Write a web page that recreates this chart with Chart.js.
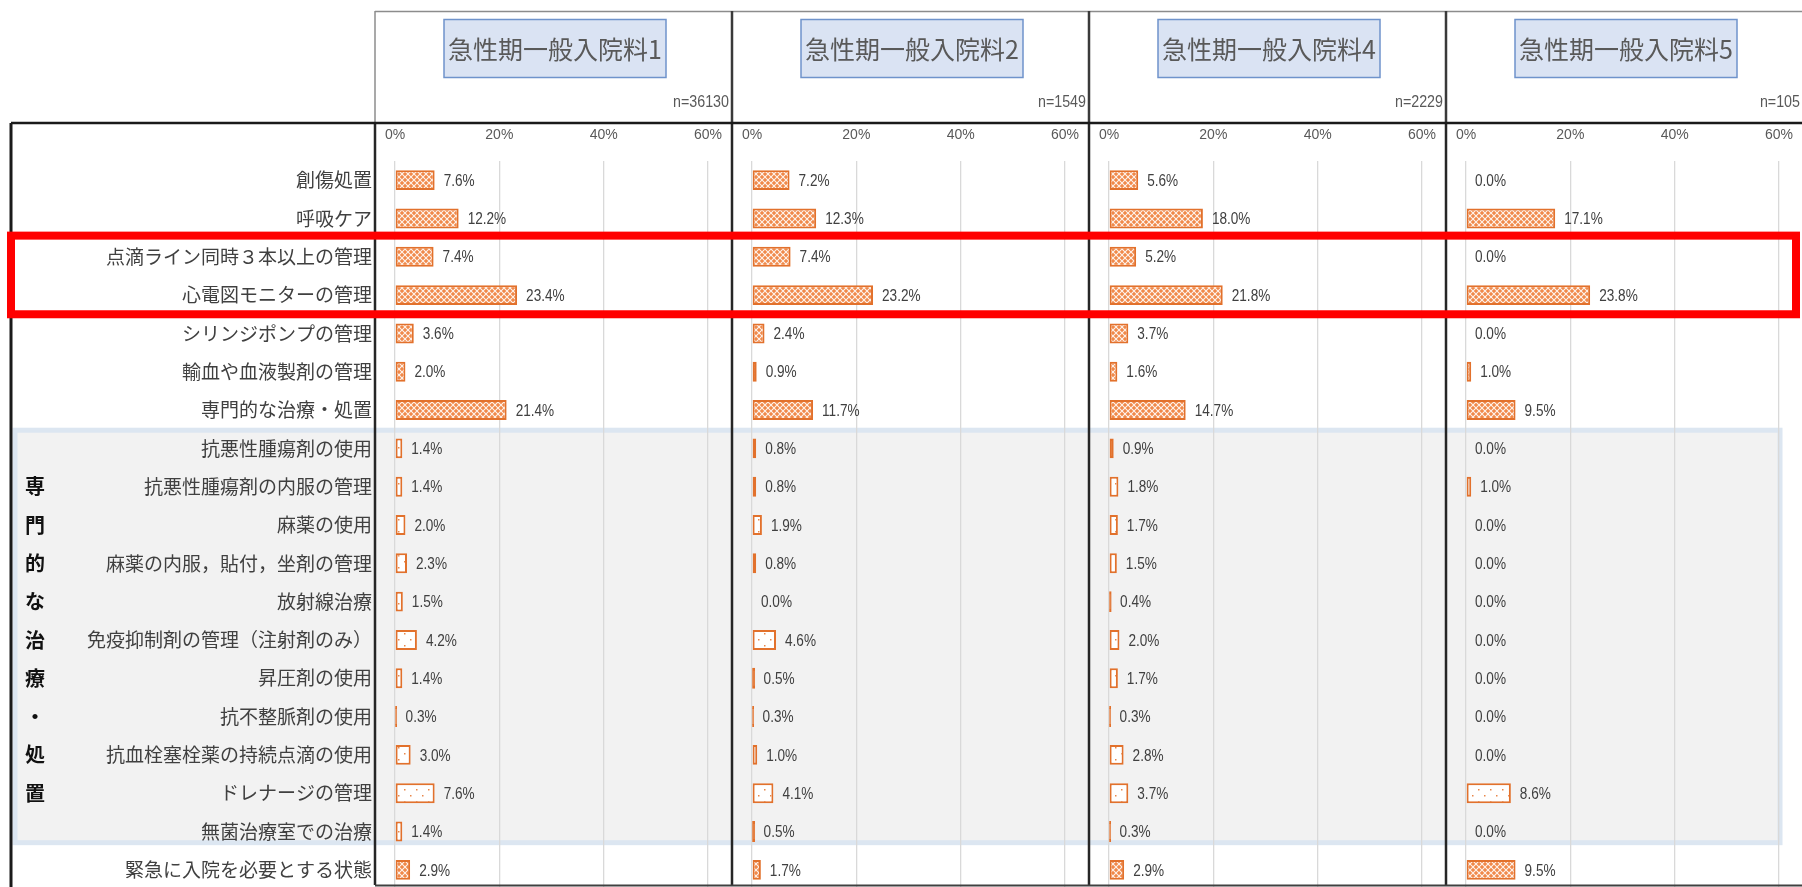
<!DOCTYPE html>
<html>
<head>
<meta charset="utf-8">
<script src="https://cdn.jsdelivr.net/npm/chart.js@4.4.1/dist/chart.umd.min.js"></script>
<style>
  html, body { margin: 0; padding: 0; background: #fff; overflow: hidden; }
  #wrap { position: relative; width: 1802px; height: 887px; overflow: hidden; }
  #wrap canvas { position: absolute; top: 0; }
</style>
</head>
<body>
<div id="wrap"></div>
<script>
// data (percent)
const categories = [
  '創傷処置', '呼吸ケア', '点滴ライン同時３本以上の管理', '心電図モニターの管理',
  'シリンジポンプの管理', '輸血や血液製剤の管理', '専門的な治療・処置',
  '抗悪性腫瘍剤の使用', '抗悪性腫瘍剤の内服の管理', '麻薬の使用',
  '麻薬の内服，貼付，坐剤の管理', '放射線治療', '免疫抑制剤の管理（注射剤のみ）',
  '昇圧剤の使用', '抗不整脈剤の使用', '抗血栓塞栓薬の持続点滴の使用',
  'ドレナージの管理', '無菌治療室での治療', '緊急に入院を必要とする状態'
]
const titles = ['急性期一般入院料1', '急性期一般入院料2', '急性期一般入院料4', '急性期一般入院料5']
const sampleSizes = ['n=36130', 'n=1549', 'n=2229', 'n=105']
const ratesType1 = [7.6, 12.2, 7.4, 23.4, 3.6, 2.0, 21.4, 1.4, 1.4, 2.0, 2.3, 1.5, 4.2, 1.4, 0.3, 3.0, 7.6, 1.4, 2.9]
const ratesType2 = [7.2, 12.3, 7.4, 23.2, 2.4, 0.9, 11.7, 0.8, 0.8, 1.9, 0.8, 0.0, 4.6, 0.5, 0.3, 1.0, 4.1, 0.5, 1.7]
const ratesType4 = [5.6, 18.0, 5.2, 21.8, 3.7, 1.6, 14.7, 0.9, 1.8, 1.7, 1.5, 0.4, 2.0, 1.7, 0.3, 2.8, 3.7, 0.3, 2.9]
const ratesType5 = [0.0, 17.1, 0.0, 23.8, 0.0, 1.0, 9.5, 0.0, 1.0, 0.0, 0.0, 0.0, 0.0, 0.0, 0.0, 0.0, 8.6, 0.0, 9.5]
const xTicks = [0, 20, 40, 60]
const groupLabel = '専門的な治療・処置'
const groupRows = [7, 17]      // shaded block: first and last row
const groupLabelStart = 8      // row of the first vertical character
const highlightRows = [2, 3]   // rows in the red frame

// layout (page pixels)
const panelLefts = [375, 732, 1089, 1446]
const panelWidth = 357
const zeroOffset = 20
const plotWidth = 313
const canvasH = 896
const plotTop = 161
const plotBottom = 889
const tableTop = 123
const tableLeft = 11

const sans = "'Liberation Sans', Arial, sans-serif"
const cjk = "'Noto Sans CJK JP', sans-serif"
const barOrange = '#E2712C'

function makePattern (kind) {
  const c = document.createElement('canvas')
  const g = c.getContext('2d')
  if (kind === 'lattice') {
    c.width = 6; c.height = 6
    g.fillStyle = '#F0894A'
    g.fillRect(0, 0, 6, 6)
    g.strokeStyle = 'rgba(255,255,255,0.9)'
    g.lineWidth = 1.1
    g.beginPath()
    g.moveTo(0, 0); g.lineTo(6, 6)
    g.moveTo(6, 0); g.lineTo(0, 6)
    g.stroke()
  } else {
    c.width = 12; c.height = 12
    g.fillStyle = '#ffffff'
    g.fillRect(0, 0, 12, 12)
    g.fillStyle = '#E9874A'
    g.fillRect(2, 3, 1.5, 1.5)
    g.fillRect(8, 9, 1.5, 1.5)
  }
  return g.createPattern(c, 'repeat')
}
const latticeFill = makePattern('lattice')
const dotFill = makePattern('dots')

function line (ctx, x1, y1, x2, y2, color, w) {
  ctx.strokeStyle = color
  ctx.lineWidth = w
  ctx.beginPath()
  ctx.moveTo(x1, y1)
  ctx.lineTo(x2, y2)
  ctx.stroke()
}

// narrow text: the original uses a condensed face
function narrowText (ctx, text, x, y, size, align, squeeze) {
  ctx.save()
  ctx.font = size + 'px ' + sans
  ctx.textAlign = align
  ctx.textBaseline = 'middle'
  ctx.translate(x, y)
  ctx.scale(squeeze, 1)
  ctx.fillText(text, 0, 0)
  ctx.restore()
}

const panelDeco = {
  id: 'panelDeco',
  beforeDraw (chart, args, opts) {
    const ctx = chart.ctx
    const y = chart.scales.y
    const band = y.getPixelForValue(1) - y.getPixelForValue(0)
    const top = y.getPixelForValue(groupRows[0]) - band / 2 + 1
    const bottom = y.getPixelForValue(groupRows[1]) + band / 2 - 8
    const x0 = opts.panel === 0 ? tableLeft + 4 : opts.pageLeft - 10
    const x1 = opts.panel === 3 ? 1780 : opts.pageLeft + chart.width + 10
    ctx.save()
    ctx.translate(-opts.pageLeft, 0)
    ctx.fillStyle = '#F2F2F2'
    ctx.fillRect(x0, top, x1 - x0, bottom - top)
    ctx.strokeStyle = '#DCE6F1'
    ctx.lineWidth = 5
    ctx.strokeRect(x0, top, x1 - x0, bottom - top)
    ctx.restore()
  },
  afterDatasetsDraw (chart) {
    const ctx = chart.ctx
    const meta = chart.getDatasetMeta(0)
    const vals = chart.data.datasets[0].data
    ctx.fillStyle = '#404040'
    meta.data.forEach((bar, i) => {
      narrowText(ctx, vals[i].toFixed(1) + '%', bar.x + 9, bar.y + 1, 17, 'left', 0.8)
    })
  },
  afterDraw (chart, args, opts) {
    const ctx = chart.ctx
    const y = chart.scales.y
    const band = y.getPixelForValue(1) - y.getPixelForValue(0)
    const k = opts.panel
    const px = panelLefts[k]
    ctx.save()
    ctx.translate(-opts.pageLeft, 0)

    // title box + n
    ctx.fillStyle = '#DAE3F3'
    ctx.fillRect(px + 69, 19.5, 222, 58)
    ctx.strokeStyle = '#6F93CB'
    ctx.lineWidth = 1.5
    ctx.strokeRect(px + 69, 19.5, 222, 58)
    ctx.fillStyle = '#595959'
    ctx.font = '25px ' + cjk
    ctx.textAlign = 'center'
    ctx.textBaseline = 'middle'
    ctx.fillText(titles[k], px + 180, 49)
    narrowText(ctx, sampleSizes[k], px + panelWidth - 3, 102, 17, 'right', 0.84)

    // frames
    line(ctx, 375, 11.5, 1802, 11.5, '#8c8c8c', 1.5)
    panelLefts.forEach((p, i) => {
      line(ctx, p, 11, p, tableTop, i === 0 ? '#8c8c8c' : '#3a3a3a', i === 0 ? 1.5 : 2.5)
      line(ctx, p, tableTop, p, 885, '#262626', 2.5)
    })
    line(ctx, tableLeft, tableTop, 1802, tableTop, '#1a1a1a', 2.5)
    line(ctx, tableLeft, tableTop, tableLeft, 887, '#1a1a1a', 3)
    line(ctx, 375, 885.5, 1802, 885.5, '#404040', 2)

    // vertical group label
    ctx.fillStyle = '#111'
    ctx.font = 'bold 20px ' + cjk
    ctx.textAlign = 'center'
    ctx.textBaseline = 'middle'
    Array.from(groupLabel).forEach((ch, i) => {
      ctx.fillText(ch, 35, y.getPixelForValue(groupLabelStart + i))
    })

    // red highlight frame
    const rTop = y.getPixelForValue(highlightRows[0]) - band / 2 - 2
    const rBottom = y.getPixelForValue(highlightRows[1]) + band / 2
    ctx.strokeStyle = '#FF0000'
    ctx.lineWidth = 8
    ctx.strokeRect(11, rTop, 1796 - 11, rBottom - rTop)
    ctx.restore()
  }
}

const wrap = document.getElementById('wrap')
const series = [ratesType1, ratesType2, ratesType4, ratesType5]

series.forEach((vals, k) => {
  const left = k === 0 ? 0 : panelLefts[k]
  const width = panelLefts[k] + panelWidth - left
  const leftPad = panelLefts[k] - left + zeroOffset
  const cv = document.createElement('canvas')
  cv.width = width
  cv.height = canvasH
  cv.style.left = left + 'px'
  wrap.appendChild(cv)

  new Chart(cv, {
    type: 'bar',
    data: {
      labels: categories,
      datasets: [{
        data: vals,
        backgroundColor: (c) => {
          if (c.raw > 0 && c.raw < 0.7) return barOrange   // hairline bars are just the outline
          return (c.dataIndex >= groupRows[0] && c.dataIndex <= groupRows[1]) ? dotFill : latticeFill
        },
        borderColor: barOrange,
        borderWidth: 2,
        borderSkipped: false,
        inflateAmount: (c) => (c.raw > 0 && c.raw < 0.7) ? 0.5 : 'auto',
        barPercentage: 0.52,
        categoryPercentage: 1
      }]
    },
    options: {
      indexAxis: 'y',
      responsive: false,
      animation: false,
      layout: {
        padding: { top: 0, left: 0, bottom: canvasH - plotBottom, right: width - leftPad - plotWidth }
      },
      scales: {
        x: {
          position: 'top',
          min: 0,
          max: 60,
          afterBuildTicks: (s) => { s.ticks = xTicks.map((v) => ({ value: v })) },
          afterFit: (s) => {
            s.height = plotTop
            s.paddingLeft = 0
            s.paddingRight = 0
          },
          ticks: {
            callback: (v) => v + '%',
            color: '#595959',
            font: { family: sans, size: 14 },
            padding: 17,
            maxRotation: 0
          },
          grid: { color: '#D9D9D9', lineWidth: 1.3, drawTicks: false },
          border: { display: false }
        },
        y: {
          afterFit: (s) => {
            s.width = leftPad
            s.paddingTop = 0
            s.paddingBottom = 0
          },
          ticks: {
            display: k === 0,
            autoSkip: false,
            color: '#404040',
            font: { family: cjk, size: 19 },
            padding: 23
          },
          grid: { display: false, drawTicks: false },
          border: { display: false }
        }
      },
      plugins: {
        legend: { display: false },
        tooltip: { enabled: false },
        panelDeco: { pageLeft: left, panel: k }
      }
    },
    plugins: [panelDeco]
  })
})
</script>
</body>
</html>
